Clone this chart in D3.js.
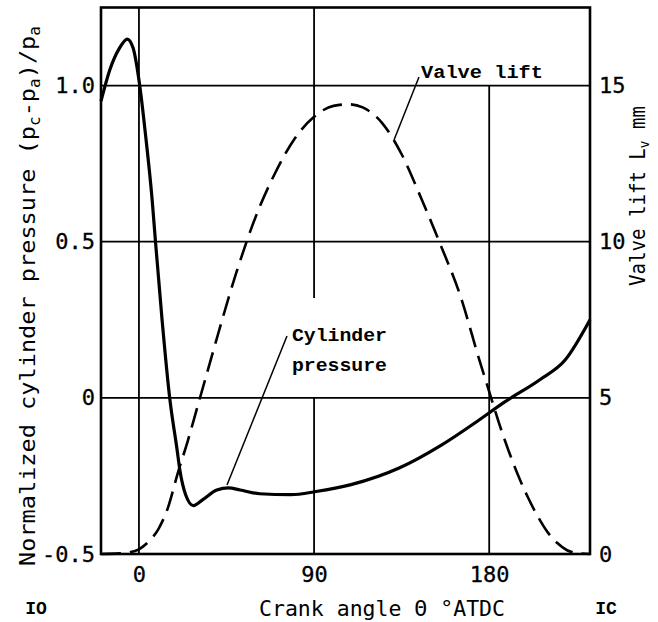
<!DOCTYPE html>
<html>
<head>
<meta charset="utf-8">
<script src="https://cdn.jsdelivr.net/npm/d3@7.9.0/dist/d3.min.js"></script>
<style>
  body { margin: 0; background: #fff; }
  text { font-family: "DejaVu Sans Mono", monospace; fill: #000; }
  .note { font-family: "Liberation Mono", "Courier New", monospace; font-weight: bold; }
</style>
</head>
<body>
<svg id="chart" width="658" height="622"></svg>
<script>
// Cylinder pressure, normalized (pc-pa)/pa, vs crank angle (deg ATDC)
const pressureAngle = [-19.5, -15, -10, -6, -3, 0.4, 3.3, 6.8, 8.5, 11.9, 15.8, 19.6, 21, 24, 28, 33, 40, 46, 52, 62, 78, 91, 109, 134, 155, 175, 188, 206, 219, 231.8];
const pressureValue = [0.95, 1.05, 1.12, 1.149, 1.12, 1.0, 0.847, 0.633, 0.5, 0.249, 0, -0.166, -0.23, -0.31, -0.345, -0.325, -0.295, -0.288, -0.295, -0.307, -0.31, -0.30, -0.278, -0.224, -0.153, -0.07, -0.013, 0.058, 0.121, 0.25];

// Valve lift Lv (mm) vs crank angle
const liftAngle = [-19.5, -10, -5, 0, 5, 10, 15, 20, 25, 30, 35, 40, 50, 60, 70, 80, 90, 100, 108, 115, 125, 135, 145, 155, 165, 175, 180, 185, 190, 195, 200, 205, 210, 215, 220, 225, 231.8];
const liftValue = [0, 0.02, 0.05, 0.15, 0.4, 0.8, 1.5, 2.6, 3.6, 4.7, 5.8, 6.9, 9.0, 10.8, 12.2, 13.3, 14.0, 14.35, 14.4, 14.3, 13.8, 12.8, 11.4, 9.9, 8.3, 6.2, 5.2, 4.2, 3.3, 2.5, 1.8, 1.2, 0.7, 0.35, 0.12, 0.03, 0];

const xTicks = [0, 90, 180];
const yTicks = [-0.5, 0, 0.5, 1.0];
const yTickLabels = ['-0.5', '0', '0.5', '1.0'];
const liftTicks = [0, 5, 10, 15];

const svg = d3.select('#chart');

const x = d3.scaleLinear().domain([-19.5, 231.8]).range([101, 590]);
const y = d3.scaleLinear().domain([-0.5, 1.25]).range([554, 7.5]);
const yLift = d3.scaleLinear().domain([0, 17.5]).range([554, 7.5]);

// grid (some lines are broken where the labels sit)
const gridH = [0, 0.5, 1.0];
gridH.forEach((v) => {
    svg.append('line')
        .attr('x1', x(-19.5)).attr('x2', x(231.8))
        .attr('y1', y(v)).attr('y2', y(v))
        .attr('stroke', '#000').attr('stroke-width', 1.8);
});
const gridV = [
    { a: 0, from: -0.5, to: 1.25 },
    { a: 90, from: 0.32, to: 1.25 },
    { a: 90, from: -0.5, to: 0 },
    { a: 180, from: -0.5, to: 1.0 },
];
gridV.forEach((g) => {
    svg.append('line')
        .attr('x1', x(g.a)).attr('x2', x(g.a))
        .attr('y1', y(g.from)).attr('y2', y(g.to))
        .attr('stroke', '#000').attr('stroke-width', 1.8);
});

// frame
svg.append('rect')
    .attr('x', x(-19.5)).attr('y', y(1.25))
    .attr('width', x(231.8) - x(-19.5))
    .attr('height', y(-0.5) - y(1.25))
    .attr('fill', 'none').attr('stroke', '#000').attr('stroke-width', 2.6);

// curves
const pressureLine = d3.line()
    .x((d, i) => x(pressureAngle[i]))
    .y((d) => y(d))
    .curve(d3.curveMonotoneX);

const liftLine = d3.line()
    .x((d, i) => x(liftAngle[i]))
    .y((d) => yLift(d))
    .curve(d3.curveMonotoneX);

svg.append('path')
    .attr('d', liftLine(liftValue))
    .attr('fill', 'none').attr('stroke', '#000')
    .attr('stroke-width', 2.6).attr('stroke-dasharray', '20,9');

svg.append('path')
    .attr('d', pressureLine(pressureValue))
    .attr('fill', 'none').attr('stroke', '#000')
    .attr('stroke-width', 3.2).attr('stroke-linejoin', 'round');

// axes (labels only, the frame is the rect above)
const leftAxis = svg.append('g')
    .attr('transform', `translate(${x(-19.5)},0)`)
    .call(d3.axisLeft(y).tickValues(yTicks).tickSize(0).tickPadding(6)
        .tickFormat((d, i) => yTickLabels[i]));

const bottomAxis = svg.append('g')
    .attr('transform', `translate(0,${y(-0.5)})`)
    .call(d3.axisBottom(x).tickValues(xTicks).tickSize(0).tickPadding(12));

const rightAxis = svg.append('g')
    .attr('transform', `translate(${x(231.8)},0)`)
    .call(d3.axisRight(yLift).tickValues(liftTicks).tickSize(0).tickPadding(9));

[leftAxis, bottomAxis, rightAxis].forEach((g) => {
    g.select('.domain').remove();
    g.selectAll('text')
        .attr('font-family', '"DejaVu Sans Mono", monospace')
        .attr('font-size', 22)
        .attr('stroke', '#000').attr('stroke-width', 0.3);
});

// axis titles
const leftTitle = svg.append('text')
    .attr('transform', 'translate(35,296) rotate(-90)')
    .attr('text-anchor', 'middle')
    .attr('font-size', 22)
    .attr('textLength', 540).attr('lengthAdjust', 'spacingAndGlyphs');
leftTitle.append('tspan').text('Normalized cylinder pressure  (p');
leftTitle.append('tspan').attr('font-size', 15).attr('dy', 5).text('c');
leftTitle.append('tspan').attr('dy', -5).text('-p');
leftTitle.append('tspan').attr('font-size', 15).attr('dy', 5).text('a');
leftTitle.append('tspan').attr('dy', -5).text(')/p');
leftTitle.append('tspan').attr('font-size', 15).attr('dy', 5).text('a');

const rightTitle = svg.append('text')
    .attr('transform', 'translate(645,196) rotate(-90)')
    .attr('text-anchor', 'middle')
    .attr('font-size', 21)
    .attr('textLength', 180).attr('lengthAdjust', 'spacingAndGlyphs');
rightTitle.append('tspan').text('Valve lift  L');
rightTitle.append('tspan').attr('font-size', 14).attr('dy', 4).text('v');
rightTitle.append('tspan').attr('dy', -4).text(' mm');

svg.append('text')
    .attr('x', 382).attr('y', 616)
    .attr('text-anchor', 'middle')
    .attr('font-size', 22)
    .attr('textLength', 246).attr('lengthAdjust', 'spacingAndGlyphs')
    .text('Crank angle  \u0398  \u00B0ATDC');

svg.append('text').attr('class', 'note')
    .attr('x', 36).attr('y', 614).attr('text-anchor', 'middle')
    .attr('font-size', 18).text('IO');
svg.append('text').attr('class', 'note')
    .attr('x', 606).attr('y', 614).attr('text-anchor', 'middle')
    .attr('font-size', 18).text('IC');

// callouts
svg.append('text').attr('class', 'note')
    .attr('x', 421).attr('y', 78)
    .attr('font-size', 18).attr('textLength', 122).attr('lengthAdjust', 'spacingAndGlyphs')
    .text('Valve lift');
svg.append('line')
    .attr('x1', 419).attr('y1', 77).attr('x2', 394).attr('y2', 140)
    .attr('stroke', '#000').attr('stroke-width', 1.5);

svg.append('text').attr('class', 'note')
    .attr('x', 292).attr('y', 341)
    .attr('font-size', 18).attr('textLength', 95).attr('lengthAdjust', 'spacingAndGlyphs')
    .text('Cylinder');
svg.append('text').attr('class', 'note')
    .attr('x', 292).attr('y', 371)
    .attr('font-size', 18).attr('textLength', 95).attr('lengthAdjust', 'spacingAndGlyphs')
    .text('pressure');
svg.append('line')
    .attr('x1', 287).attr('y1', 336).attr('x2', 227).attr('y2', 485)
    .attr('stroke', '#000').attr('stroke-width', 1.5);
</script>
</body>
</html>
